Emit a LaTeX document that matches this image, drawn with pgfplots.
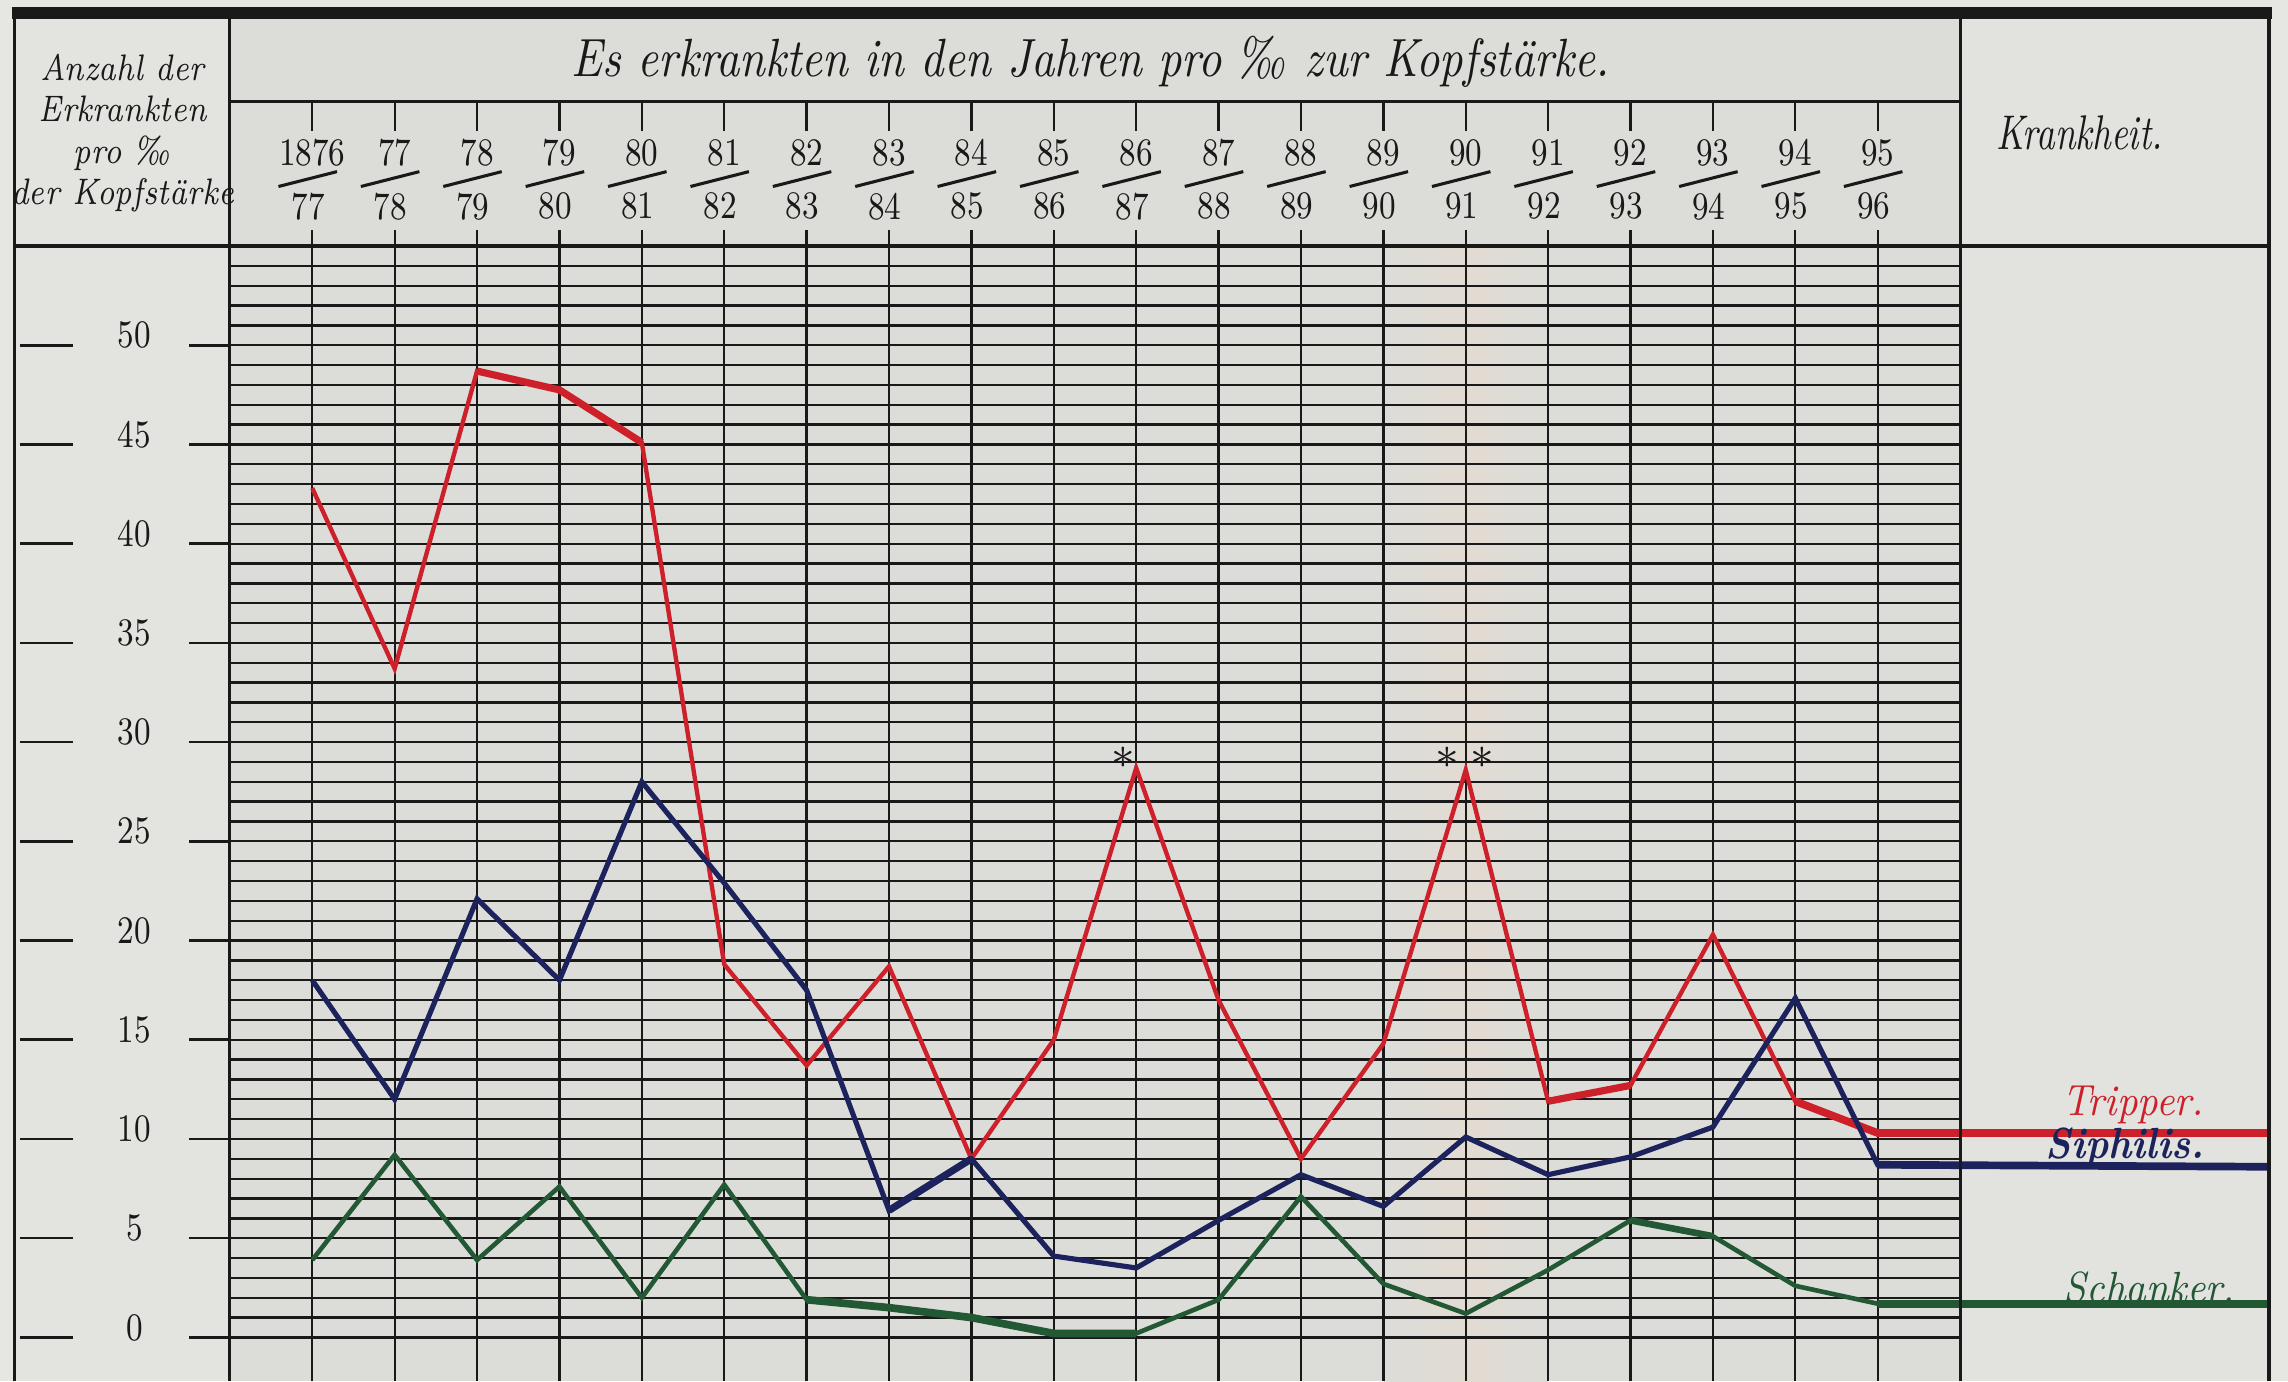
\documentclass[border=0pt]{standalone}
\usepackage{pgfplots}
\pgfplotsset{compat=1.18}
\usetikzlibrary{backgrounds}
\definecolor{paper}{RGB}{220,220,216}
\definecolor{paperL}{RGB}{230,230,227}
\definecolor{fold}{RGB}{226,219,210}
\definecolor{trip}{RGB}{205,32,42}
\definecolor{siph}{RGB}{28,34,92}
\definecolor{schank}{RGB}{34,88,52}
\definecolor{ink}{RGB}{25,25,25}
\newcommand{\cn}[1]{\scalebox{0.8}[1]{#1}}
\newcommand{\yrfont}{\fontsize{7.6}{8}\selectfont}
\newcommand{\yr}[3]{%
  \node[font=\yrfont, inner sep=0pt, text=ink] at (axis cs:#1,59.7) {\cn{#2}};
  \node[font=\yrfont, inner sep=0pt, text=ink] at (axis cs:#1-0.05,57.0) {\cn{#3}};
  \draw[ink, line width=0.6pt] (axis cs:#1-0.41,58.0) -- (axis cs:#1+0.30,58.75);
  \draw[ink, line width=0.45pt] (axis cs:#1,62.3) -- (axis cs:#1,60.8);
  \draw[ink, line width=0.45pt] (axis cs:#1,55.8) -- (axis cs:#1,55);}
\newcommand{\ylab}[1]{%
  \node[font=\yrfont, inner sep=0pt, text=ink] at (axis cs:-2.16,#1+0.5) {\cn{#1}};
  \draw[ink, line width=0.5pt] (axis cs:-3.55,#1) -- (axis cs:-2.9,#1);
  \draw[ink, line width=0.5pt] (axis cs:-1.49,#1) -- (axis cs:-1,#1);}
\begin{document}
\begin{tikzpicture}
\begin{axis}[
  x=0.5647cm, y=0.136cm,
  xmin=-1, xmax=20, ymin=-2.2, ymax=55,
  clip=false,
  axis line style={draw=none},
  xtick={0,...,19}, ytick={0,...,54},
  xticklabels={}, yticklabels={},
  major tick length=0pt,
  grid=major,
  major grid style={ink, line width=0.45pt},
]
% frame coordinates
\coordinate (BL) at (axis cs:-3.79,-2.2);
\coordinate (TR) at (axis cs:23.98,67.4);
\coordinate (LC1) at (axis cs:-3.61,-2.2);
\coordinate (LC2) at (axis cs:-1,66.7);
\coordinate (RC1) at (axis cs:20,-2.2);
\coordinate (RC2) at (axis cs:23.75,66.7);
\coordinate (F1) at (axis cs:13.0,-2.2);
\coordinate (F2) at (axis cs:15.0,55);

% data: Tripper
\addplot[trip, line width=0.85pt] coordinates {
(0,42.8) (1,33.7) (2,48.7) (3,47.75) (4,45.1) (5,18.8) (6,13.7) (7,18.7)
(8,9.0) (9,15.0) (10,28.7) (11,17.0) (12,9.0) (13,14.8) (14,28.6)
(15,11.9) (16,12.7) (17,20.3) (18,11.9) (19,10.3) (23.75,10.3)};
\addplot[trip, line width=1.4pt] coordinates {(2,48.7) (3,47.75) (4,45.1)};
\addplot[trip, line width=1.4pt] coordinates {(15,11.9) (16,12.7)};
\addplot[trip, line width=1.5pt] coordinates {(18,11.9) (19,10.3) (23.75,10.3)};
% Siphilis
\addplot[siph, line width=1.0pt] coordinates {
(0,18.0) (1,12.0) (2,22.1) (3,18.0) (4,28.0) (5,22.9) (6,17.5) (7,6.4)
(8,9.0) (9,4.1) (10,3.5) (11,5.9) (12,8.2) (13,6.6) (14,10.1)
(15,8.2) (16,9.1) (17,10.6) (18,17.1) (19,8.7) (23.75,8.6)};
\addplot[siph, line width=1.4pt] coordinates {(7,6.4) (8,9.0)};
\addplot[siph, line width=1.5pt] coordinates {(19,8.7) (23.75,8.6)};
% Schanker
\addplot[schank, line width=0.9pt] coordinates {
(0,3.9) (1,9.2) (2,3.9) (3,7.6) (4,2.0) (5,7.7) (6,1.9) (7,1.5)
(8,1.0) (9,0.2) (10,0.2) (11,1.9) (12,7.1) (13,2.7) (14,1.2)
(15,3.4) (16,5.9) (17,5.1) (18,2.6) (19,1.7) (23.75,1.7)};
\addplot[schank, line width=1.5pt] coordinates {(6,1.9) (7,1.5) (8,1.0) (9,0.2) (10,0.2)};
\addplot[schank, line width=1.3pt] coordinates {(16,5.9) (17,5.1)};
\addplot[schank, line width=1.5pt] coordinates {(19,1.7) (23.75,1.7)};

% frame
\draw[ink, line width=2.2pt] (axis cs:-3.65,66.75) -- (axis cs:23.79,66.75);
\draw[ink, line width=0.6pt] (axis cs:-3.61,66.75) -- (axis cs:-3.61,-2.2);
\draw[ink, line width=0.7pt] (axis cs:23.75,66.75) -- (axis cs:23.75,-2.2);
\draw[ink, line width=0.6pt] (axis cs:-1,66.75) -- (axis cs:-1,-2.2);
\draw[ink, line width=0.6pt] (axis cs:20,66.75) -- (axis cs:20,-2.2);
\draw[ink, line width=0.8pt] (axis cs:-3.61,55) -- (axis cs:23.75,55);
\draw[ink, line width=0.6pt] (axis cs:-1,62.3) -- (axis cs:20,62.3);

% header texts
\node[font=\fontsize{10.5}{12}\selectfont\itshape, text=ink] at (axis cs:9.45,64.3)
  {\scalebox{0.85}[1]{Es erkrankten in den Jahren pro ‰ zur Kopfstärke.}};
\node[font=\fontsize{7.2}{8.1}\selectfont\itshape, text=ink, align=center, inner sep=0pt]
  at (axis cs:-2.3,60.7) {\scalebox{0.8}[1]{Anzahl der}\\\scalebox{0.8}[1]{Erkrankten}\\\scalebox{0.8}[1]{pro ‰}\\\scalebox{0.8}[1]{der Kopfstärke}};
\node[font=\fontsize{9.5}{12}\selectfont\itshape, text=ink] at (axis cs:21.45,60.7) {\scalebox{0.75}[1]{Krankheit.}};

% year labels
\yr{0}{1876}{77}
\yr{1}{77}{78}
\yr{2}{78}{79}
\yr{3}{79}{80}
\yr{4}{80}{81}
\yr{5}{81}{82}
\yr{6}{82}{83}
\yr{7}{83}{84}
\yr{8}{84}{85}
\yr{9}{85}{86}
\yr{10}{86}{87}
\yr{11}{87}{88}
\yr{12}{88}{89}
\yr{13}{89}{90}
\yr{14}{90}{91}
\yr{15}{91}{92}
\yr{16}{92}{93}
\yr{17}{93}{94}
\yr{18}{94}{95}
\yr{19}{95}{96}

% y labels
\ylab{0}
\ylab{5}
\ylab{10}
\ylab{15}
\ylab{20}
\ylab{25}
\ylab{30}
\ylab{35}
\ylab{40}
\ylab{45}
\ylab{50}

% stars
\node[font=\fontsize{9}{9}\selectfont\bfseries, inner sep=0pt, text=ink] at (axis cs:9.85,29.2) {$\ast$};
\node[font=\fontsize{9}{9}\selectfont\bfseries, inner sep=0pt, text=ink] at (axis cs:13.78,29.2) {$\ast$};
\node[font=\fontsize{9}{9}\selectfont\bfseries, inner sep=0pt, text=ink] at (axis cs:14.2,29.2) {$\ast$};

% series labels
\node[font=\fontsize{8.5}{9}\selectfont\itshape, text=trip] at (axis cs:22.1,11.7) {\scalebox{0.9}[1]{Tripper.}};
\node[font=\fontsize{8.5}{9}\selectfont\itshape\bfseries, text=siph] at (axis cs:22.0,9.6) {\scalebox{0.9}[1]{Siphilis.}};
\node[font=\fontsize{8.5}{9}\selectfont\itshape, text=schank] at (axis cs:22.3,2.5) {\scalebox{0.9}[1]{Schanker.}};
\end{axis}
\begin{scope}[on background layer]
\fill[paperL] (BL) rectangle (TR);
\fill[paper] (LC1) rectangle (RC2);
\fill[paperL!70!paper] (LC1) rectangle (LC2);
\fill[paperL!60!paper] (RC1) rectangle (RC2);
\shade[left color=paper, right color=paper, middle color=fold] (F1) rectangle (F2);
\end{scope}
\pgfresetboundingbox
\path (BL) rectangle (TR);
\end{tikzpicture}
\end{document}
